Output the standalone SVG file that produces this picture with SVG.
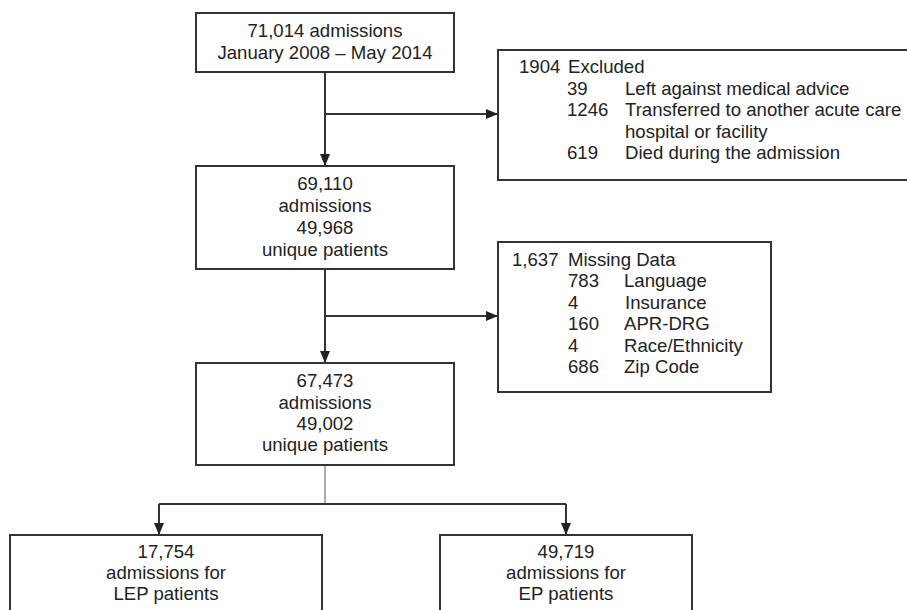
<svg xmlns="http://www.w3.org/2000/svg" width="907" height="610" viewBox="0 0 907 610">
<defs>
<style>
.box{fill:#fff;stroke:#333;stroke-width:2}
.t{font-family:"Liberation Sans",Arial,sans-serif;font-size:18.6px;fill:#222}
.c{text-anchor:middle}
.ln{fill:none;stroke:#333;stroke-width:2}
.thin{fill:none;stroke:#777;stroke-width:1.2}
</style>
<marker id="ah" markerUnits="userSpaceOnUse" markerWidth="12" markerHeight="10" refX="12" refY="5" orient="auto">
<path d="M0,0 L12,5 L0,10 Z" fill="#222"/>
</marker>
</defs>
<rect width="907" height="610" fill="#fff"/>
<g id="connectors">
<line class="ln" x1="325" y1="72" x2="325" y2="166" marker-end="url(#ah)"/>
<line class="ln" x1="325" y1="114" x2="498" y2="114" marker-end="url(#ah)"/>
<line class="ln" x1="325" y1="269" x2="325" y2="363" marker-end="url(#ah)"/>
<line class="ln" x1="325" y1="316" x2="498" y2="316" marker-end="url(#ah)"/>
<line class="thin" x1="325" y1="465" x2="325" y2="504"/>
<line class="ln" x1="159" y1="504" x2="566" y2="504"/>
<line class="ln" x1="159" y1="504" x2="159" y2="535" marker-end="url(#ah)"/>
<line class="ln" x1="566" y1="504" x2="566" y2="535" marker-end="url(#ah)"/>
</g>
<g id="n1">
<rect class="box" x="196" y="13" width="258" height="59"/>
<text class="t c" x="325" y="37">71,014 admissions</text>
<text class="t c" x="325" y="59">January 2008 – May 2014</text>
</g>
<g id="n2">
<rect class="box" x="498" y="50" width="412" height="130"/>
<text class="t" x="519" y="73">1904</text>
<text class="t" x="568" y="73">Excluded</text>
<text class="t" x="567" y="94.5">39</text>
<text class="t" x="625" y="94.5">Left against medical advice</text>
<text class="t" x="567" y="116">1246</text>
<text class="t" x="625" y="116">Transferred to another acute care</text>
<text class="t" x="625" y="137.5">hospital or facility</text>
<text class="t" x="567" y="159">619</text>
<text class="t" x="625" y="159">Died during the admission</text>
</g>
<g id="n3">
<rect class="box" x="196" y="166" width="258" height="103"/>
<text class="t c" x="325" y="190">69,110</text>
<text class="t c" x="325" y="212">admissions</text>
<text class="t c" x="325" y="234">49,968</text>
<text class="t c" x="325" y="255.5">unique patients</text>
</g>
<g id="n4">
<rect class="box" x="498" y="242" width="273" height="150"/>
<text class="t" x="512" y="265.5">1,637</text>
<text class="t" x="568" y="265.5">Missing Data</text>
<text class="t" x="568" y="287">783</text>
<text class="t" x="624" y="287">Language</text>
<text class="t" x="568" y="308.5">4</text>
<text class="t" x="625" y="308.5">Insurance</text>
<text class="t" x="568" y="330">160</text>
<text class="t" x="624" y="330">APR-DRG</text>
<text class="t" x="568" y="351.5">4</text>
<text class="t" x="624" y="351.5">Race/Ethnicity</text>
<text class="t" x="568" y="373">686</text>
<text class="t" x="624" y="373">Zip Code</text>
</g>
<g id="n5">
<rect class="box" x="196" y="363" width="258" height="102"/>
<text class="t c" x="325" y="387">67,473</text>
<text class="t c" x="325" y="408.5">admissions</text>
<text class="t c" x="325" y="430">49,002</text>
<text class="t c" x="325" y="451">unique patients</text>
</g>
<g id="n6">
<rect class="box" x="10" y="535" width="312" height="90"/>
<text class="t c" x="166" y="558">17,754</text>
<text class="t c" x="166" y="579">admissions for</text>
<text class="t c" x="166" y="600">LEP patients</text>
</g>
<g id="n7">
<rect class="box" x="440" y="535" width="252" height="90"/>
<text class="t c" x="566" y="558">49,719</text>
<text class="t c" x="566" y="579">admissions for</text>
<text class="t c" x="566" y="600">EP patients</text>
</g>
</svg>
